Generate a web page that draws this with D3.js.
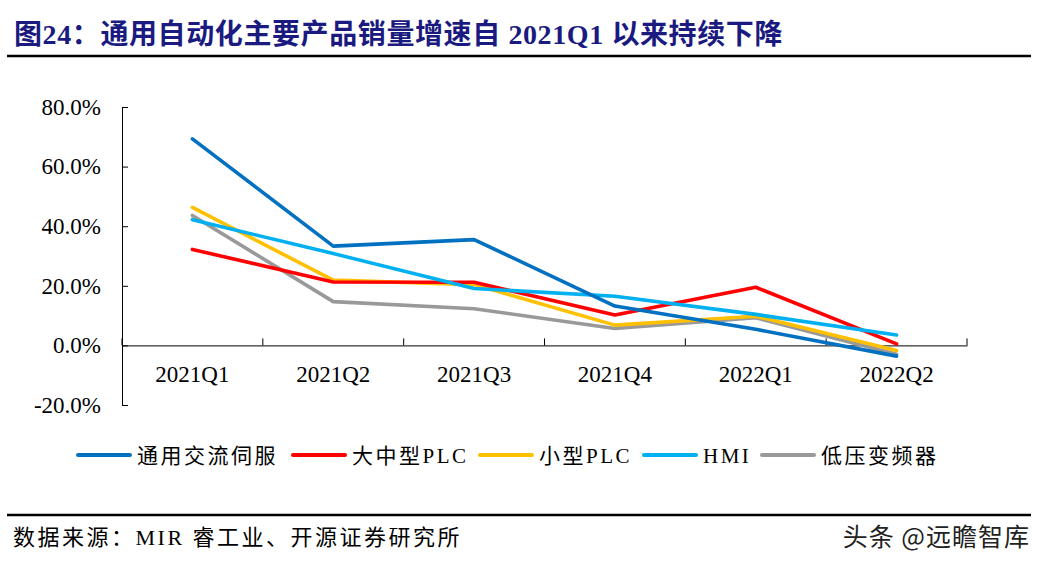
<!DOCTYPE html>
<html>
<head>
<meta charset="utf-8">
<script src="https://cdn.jsdelivr.net/npm/d3@7"></script>
<style>
  body { margin: 0; background: #fff; }
  svg { display: block; }
</style>
</head>
<body>
<svg id="chart"></svg>
<script>
// quarters on the x axis
const quarters = ["2021Q1", "2021Q2", "2021Q3", "2021Q4", "2022Q1", "2022Q2"];

// yoy growth, percent
const servo = [69.3, 33.3, 35.5, 13.2, 5.4, -3.6];
const plcLarge = [32.2, 21.3, 21.2, 10.2, 19.5, 0.5];
const plcSmall = [46.3, 21.9, 20.4, 6.8, 9.8, -1.7];
const hmi = [42.2, 30.8, 19.1, 16.5, 10.4, 3.5];
const inverter = [43.6, 14.7, 12.3, 5.7, 9.3, -3.0];

const seriesNames = ["通用交流伺服", "大中型PLC", "小型PLC", "HMI", "低压变频器"];
const seriesColors = ["#0070C0", "#FF0000", "#FFC000", "#00B0F0", "#999999"];
const yTicks = [-20, 0, 20, 40, 60, 80];

const width = 1043, height = 564;
const serif = "'Liberation Serif', 'Times New Roman', 'Noto Sans CJK SC', serif";

const svg = d3.select("#chart").attr("width", width).attr("height", height);

// title + rules
svg.append("text")
  .attr("x", 14).attr("y", 44)
  .attr("font-family", serif)
  .attr("font-size", 28).attr("font-weight", "bold")
  .attr("letter-spacing", 0.6)
  .attr("fill", "#1a1a80")
  .text("图24：通用自动化主要产品销量增速自 2021Q1 以来持续下降");

svg.append("line")
  .attr("x1", 7).attr("x2", 1031).attr("y1", 56).attr("y2", 56)
  .attr("stroke", "#000").attr("stroke-width", 2.5);

svg.append("line")
  .attr("x1", 7).attr("x2", 1031).attr("y1", 515).attr("y2", 515)
  .attr("stroke", "#000").attr("stroke-width", 2.5);

// scales
const x = d3.scaleBand().domain(quarters).range([122, 967]);
const y = d3.scaleLinear().domain([-20, 80]).range([405, 107]);

// y axis
const yAxis = svg.append("g")
  .attr("transform", "translate(122,0)")
  .call(d3.axisLeft(y).tickValues(yTicks).tickSize(6).tickSizeOuter(0)
    .tickFormat(d => d.toFixed(1) + "%"));
yAxis.select(".domain").attr("stroke", "#000");
yAxis.selectAll(".tick line").attr("stroke", "#000").attr("x2", 6);
yAxis.selectAll(".tick text")
  .attr("x", -21)
  .attr("font-family", serif).attr("font-size", 23).attr("fill", "#000");

// x axis at zero
const xAxis = svg.append("g")
  .attr("transform", `translate(0,${y(0)})`)
  .call(d3.axisBottom(x).tickSize(0).tickSizeOuter(0));
xAxis.select(".domain").attr("stroke", "#000");
xAxis.selectAll(".tick text")
  .attr("dy", 0).attr("y", 37)
  .attr("font-family", serif).attr("font-size", 23).attr("fill", "#000");

// category boundary ticks, pointing up
const bounds = quarters.map(q => x(q)).concat([x.range()[1]]);
svg.append("g").selectAll("line")
  .data(bounds)
  .join("line")
  .attr("x1", d => d).attr("x2", d => d)
  .attr("y1", y(0)).attr("y2", y(0) - 7)
  .attr("stroke", "#000");

// lines
const allSeries = [servo, plcLarge, plcSmall, hmi, inverter];
const line = d3.line()
  .x((d, i) => x(quarters[i]) + x.bandwidth() / 2)
  .y(d => y(d));

// draw order: back to front
const drawOrder = [4, 2, 1, 3, 0];
svg.append("g").selectAll("path")
  .data(drawOrder)
  .join("path")
  .attr("d", k => line(allSeries[k]))
  .attr("fill", "none")
  .attr("stroke", k => seriesColors[k])
  .attr("stroke-width", 3.6)
  .attr("stroke-linejoin", "round")
  .attr("stroke-linecap", "round");

// legend
const legendX = [78, 293, 480, 644, 762];
const lg = svg.append("g").selectAll("g")
  .data(seriesNames)
  .join("g")
  .attr("transform", (d, i) => `translate(${legendX[i]},455)`);
lg.append("line")
  .attr("x1", 0).attr("x2", 52).attr("y1", 0).attr("y2", 0)
  .attr("stroke", (d, i) => seriesColors[i])
  .attr("stroke-width", 4).attr("stroke-linecap", "round");
lg.append("text")
  .attr("x", 59).attr("y", 8)
  .attr("font-family", serif).attr("font-size", 21)
  .attr("letter-spacing", 2.5)
  .attr("fill", "#000")
  .text(d => d);

// source + watermark
svg.append("text")
  .attr("x", 13).attr("y", 545)
  .attr("font-family", serif).attr("font-size", 22)
  .attr("letter-spacing", 2.5).attr("fill", "#000")
  .text("数据来源：MIR 睿工业、开源证券研究所");

svg.append("text")
  .attr("x", 1030).attr("y", 546)
  .attr("text-anchor", "end")
  .attr("font-family", "'Noto Sans CJK SC', sans-serif")
  .attr("font-size", 25).attr("letter-spacing", 1).attr("fill", "#222")
  .text("头条 @远瞻智库");
</script>
</body>
</html>
